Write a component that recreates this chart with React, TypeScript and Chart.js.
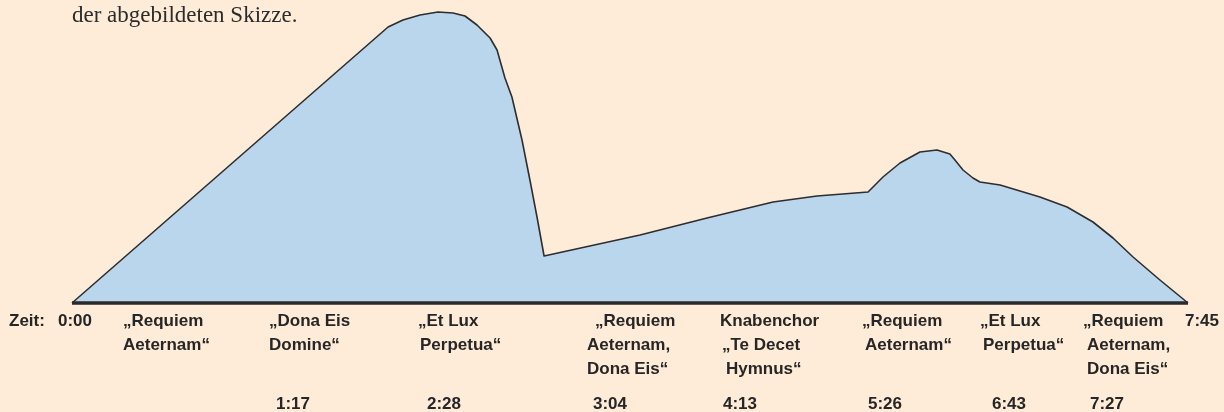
import React, { useEffect, useRef } from "react";
import { Chart, registerables } from "chart.js";

Chart.register(...registerables);

// Time axis (seconds) and relative loudness of the schematic
const timesSec = [0, 131.7, 137.9, 145, 152.5, 158.75, 163.75, 168.75, 174.2, 177.1, 180.4, 183.3, 187.5, 190.8, 193.75, 196.7, 236.7, 264.6, 292.1, 310.4, 331.7, 337.9, 345, 353.3, 360.4, 365.8, 367.9, 371.25, 375.4, 378.3, 386.7, 403.3, 414.6, 425.4, 433.75, 442.1, 453.3, 465];
const loudness = [0, 276, 283, 288, 291, 290, 287, 278, 265, 253, 225, 206, 163, 123, 86, 47, 68, 85, 101, 107, 111, 126, 140, 151, 153, 149, 143, 133, 125, 121, 118, 106, 96, 81, 65, 46, 23, 0];

const totalSec = 465;
const introText = "der abgebildeten Skizze.";
const axisTitle = "Zeit:";
const startLabel = "0:00";
const endLabel = "7:45";

const sectionNames: string[][] = [
  ["\u201ERequiem", "Aeternam\u201C"],
  ["\u201EDona Eis", "Domine\u201C"],
  ["\u201EEt Lux", "Perpetua\u201C"],
  ["\u201ERequiem", "Aeternam,", "Dona Eis\u201C"],
  ["Knabenchor", "\u201ETe Decet", "Hymnus\u201C"],
  ["\u201ERequiem", "Aeternam\u201C"],
  ["\u201EEt Lux", "Perpetua\u201C"],
  ["\u201ERequiem", "Aeternam,", "Dona Eis\u201C"],
];
const sectionTimes = ["", "1:17", "2:28", "3:04", "4:13", "5:26", "6:43", "7:27"];

// layout (pixel positions of the hand-set captions)
const sectionLineX: number[][] = [
  [123, 123],
  [269, 269],
  [418, 420],
  [595, 587, 587],
  [720, 722, 726],
  [862, 865],
  [980, 983],
  [1083, 1087, 1087],
];
const sectionTimeX = [0, 276, 427, 593, 723, 868, 992, 1090];

const BG = "#feecd8";
const FILL = "#bad6ec";
const INK = "#262626";

const captionPlugin = {
  id: "captions",
  afterDraw(chart: any) {
    const ctx = chart.ctx as CanvasRenderingContext2D;
    ctx.save();
    ctx.fillStyle = "#2b2b2b";
    ctx.textBaseline = "alphabetic";
    ctx.textAlign = "left";
    ctx.font = "23px 'Liberation Serif'";
    ctx.fillText(introText, 72, 22);

    ctx.fillStyle = INK;
    ctx.font = "bold 17px 'Liberation Sans'";
    const row0 = 326;
    const rowGap = 24;
    const timeRow = 409;
    ctx.fillText(axisTitle, 9, row0);
    ctx.fillText(startLabel, 58, row0);
    ctx.fillText(endLabel, 1185, row0);
    sectionNames.forEach((lines, i) => {
      lines.forEach((line, j) => {
        ctx.fillText(line, sectionLineX[i][j], row0 + j * rowGap);
      });
      if (sectionTimes[i]) ctx.fillText(sectionTimes[i], sectionTimeX[i], timeRow);
    });
    ctx.restore();
  },
};

export default function App() {
  const ref = useRef<HTMLCanvasElement | null>(null);
  useEffect(() => {
    if (!ref.current) return;
    const areaData = timesSec.map((t, i) => ({ x: t, y: loudness[i] }));
    const chart = new Chart(ref.current, {
      type: "line",
      data: {
        datasets: [
          {
            data: [
              { x: 0, y: 0 },
              { x: totalSec, y: 0 },
            ],
            borderColor: "#2a2a2a",
            borderWidth: 3.4,
            pointRadius: 0,
            fill: false,
            tension: 0,
            clip: false as any,
            order: 0,
          },
          {
            data: areaData,
            borderColor: "#2d2d2d",
            borderWidth: 1.6,
            backgroundColor: FILL,
            pointRadius: 0,
            fill: "origin",
            tension: 0,
            clip: false as any,
            order: 1,
          },
        ],
      },
      options: {
        animation: false,
        responsive: false,
        devicePixelRatio: 1,
        layout: { padding: { left: 72, right: 36, top: 8, bottom: 109 } },
        plugins: {
          legend: { display: false },
          tooltip: { enabled: false },
        },
        scales: {
          x: { type: "linear", min: 0, max: totalSec, display: false },
          y: { type: "linear", min: 0, max: 295, display: false },
        },
        elements: { line: { borderJoinStyle: "round" } },
      },
      plugins: [captionPlugin],
    });
    return () => chart.destroy();
  }, []);
  return (
    <div
      style={{
        position: "absolute",
        left: 0,
        top: 0,
        width: 1224,
        height: 412,
        background: BG,
        overflow: "hidden",
      }}
    >
      <canvas ref={ref} width={1224} height={412} style={{ display: "block" }} />
    </div>
  );
}
